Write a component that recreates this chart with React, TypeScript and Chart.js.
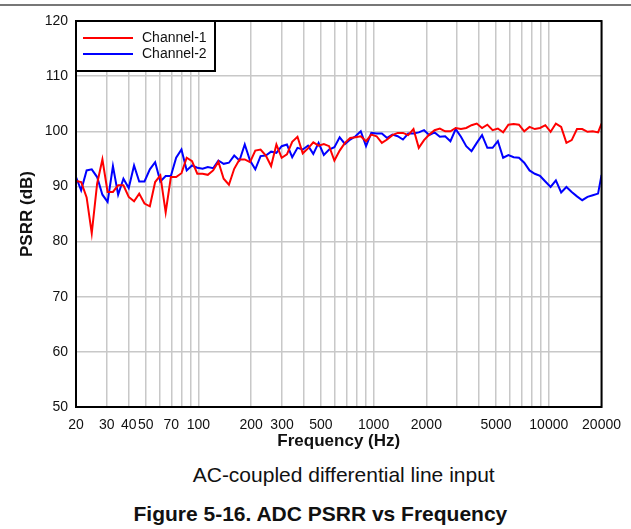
import React, { useEffect, useRef } from "react";
import { Chart, registerables } from "chart.js";

Chart.register(...registerables);

const FREQ_HZ = [20, 21.4, 23.0, 24.6, 26.4, 28.3, 30.3, 32.5, 34.8, 37.3, 40, 42.9, 45.9, 49.2, 52.8, 56.6, 60.6, 65.0, 69.6, 74.6, 80, 85.7, 91.9, 98.5, 105.6, 113.1, 121.3, 130.0, 139.3, 149.3, 160, 171.5, 183.8, 197.0, 211.1, 226.3, 242.5, 259.9, 278.6, 298.6, 320, 343.0, 367.6, 394.0, 422.2, 452.5, 485.0, 519.8, 557.2, 597.1, 640, 685.9, 735.2, 787.9, 844.5, 905.1, 970.1, 1039.7, 1114.4, 1194.3, 1280, 1371.9, 1470.3, 1575.9, 1689.0, 1810.2, 1940.1, 2079.4, 2228.7, 2388.7, 2560, 2743.7, 2940.7, 3151.7, 3377.9, 3620.4, 3880.2, 4158.7, 4457.2, 4777.1, 5120, 5487.5, 5881.3, 6303.5, 6755.9, 7240.8, 7760.5, 8317.5, 8914.4, 9554.2, 10240, 10975, 11763, 12607, 13512, 14482, 15521, 16635, 17829, 19109, 20000];

const CHANNEL_1_DB = [91.0, 90.8, 88.0, 81.5, 90.5, 94.9, 89.0, 89.0, 90.2, 90.2,
  88.1, 87.3, 88.7, 86.9, 86.4, 90.8, 92.0, 85.3, 91.7, 91.7,
  92.4, 95.2, 94.6, 92.3, 92.3, 92.1, 92.9, 94.5, 91.4, 90.3,
  93.2, 94.9, 94.9, 94.4, 96.5, 96.7, 95.6, 93.7, 97.6, 95.2,
  95.8, 98.1, 99.0, 96.0, 96.9, 98.0, 97.4, 97.7, 97.3, 94.7,
  96.5, 97.9, 98.8, 98.9, 99.1, 98.2, 99.4, 99.1, 97.9, 98.5,
  99.3, 99.7, 99.7, 99.3, 100.4, 97.0, 98.4, 99.4, 100.2, 100.5,
  100.0, 100.0, 100.6, 100.4, 100.6, 101.1, 101.4, 100.6, 101.2, 100.2,
  100.5, 99.8, 101.2, 101.3, 101.2, 100.0, 100.8, 100.4, 100.6, 101.1,
  99.9, 101.4, 100.8, 97.9, 98.4, 100.4, 100.4, 99.9, 100.0, 99.8, 101.4];

const CHANNEL_2_DB = [91.7, 89.3, 92.9, 93.1, 91.7, 88.5, 87.2, 93.7, 88.5, 91.4,
  89.7, 93.8, 90.9, 90.9, 93.1, 94.4, 90.9, 91.9, 91.9, 95.2,
  96.7, 92.9, 93.8, 93.4, 93.2, 93.5, 93.3, 94.7, 94.1, 94.3,
  95.6, 94.7, 97.6, 94.7, 93.1, 95.5, 95.6, 96.3, 96.1, 97.3,
  97.6, 95.3, 97.0, 96.7, 97.4, 95.9, 97.9, 95.7, 96.7, 97.1,
  98.9, 97.7, 98.5, 99.1, 100.0, 97.3, 99.7, 99.6, 99.6, 98.8,
  99.4, 99.1, 98.5, 99.6, 99.6, 99.8, 100.2, 99.3, 99.8, 99.0,
  99.1, 98.2, 100.4, 99.0, 97.3, 96.4, 97.9, 99.3, 97.0, 97.0,
  98.2, 95.2, 95.7, 95.3, 95.2, 94.3, 92.9, 92.3, 91.9, 90.9,
  89.9, 91.1, 88.9, 89.9, 89.0, 88.2, 87.5, 88.1, 88.4, 88.7, 92.1];

const SERIES_NAMES = ["Channel-1", "Channel-2"];
const SERIES_COLORS = ["#ff0000", "#0000ff"];

const X_GRID_VALUES = [20, 30, 40, 50, 60, 70, 80, 90, 100, 200, 300, 400, 500, 600, 700, 800, 900, 1000, 2000, 3000, 4000, 5000, 6000, 7000, 8000, 9000, 10000, 20000];
const X_LABELED = [20, 30, 40, 50, 70, 100, 200, 300, 500, 1000, 2000, 5000, 10000, 20000];

const Y_MIN = 50;
const Y_MAX = 120;
const Y_STEP = 10;

const FONT = "'Liberation Sans', Arial, Helvetica, sans-serif";

const frameAndLegend = {
  id: "frameAndLegend",
  afterDraw(chart: any) {
    const { ctx, chartArea } = chart;
    const { left, top, right, bottom } = chartArea;
    ctx.save();
    ctx.strokeStyle = "#000";
    ctx.lineWidth = 2;
    ctx.strokeRect(left, top, right - left, bottom - top);
    // legend box
    const lw = 139;
    const lh = 50;
    ctx.fillStyle = "#fff";
    ctx.fillRect(left, top, lw, lh);
    ctx.strokeRect(left, top, lw, lh);
    ctx.font = `14px ${FONT}`;
    ctx.textBaseline = "middle";
    SERIES_NAMES.forEach((name, i) => {
      const y = top + 17 + i * 16;
      ctx.strokeStyle = SERIES_COLORS[i];
      ctx.lineWidth = 2;
      ctx.beginPath();
      ctx.moveTo(left + 7, y);
      ctx.lineTo(left + 57, y);
      ctx.stroke();
      ctx.fillStyle = "#111";
      ctx.fillText(name, left + 66, y);
    });
    ctx.restore();
  },
};

function App() {
  const canvasRef = useRef<HTMLCanvasElement | null>(null);

  useEffect(() => {
    if (!canvasRef.current) return;
    const chart = new Chart(canvasRef.current, {
      type: "line",
      data: {
        datasets: [CHANNEL_1_DB, CHANNEL_2_DB].map((vals, i) => ({
          label: SERIES_NAMES[i],
          data: FREQ_HZ.map((f, j) => ({ x: f, y: vals[j] })),
          borderColor: SERIES_COLORS[i],
          backgroundColor: SERIES_COLORS[i],
          borderWidth: 2,
          pointRadius: 0,
          tension: 0,
          fill: false,
        })),
      },
      options: {
        animation: false,
        responsive: false,
        maintainAspectRatio: false,
        devicePixelRatio: 1,
        layout: { padding: { left: 0, top: 21, right: 28, bottom: 0 } },
        plugins: {
          legend: { display: false },
          tooltip: { enabled: false },
          title: { display: false },
        },
        scales: {
          x: {
            type: "logarithmic",
            min: 20,
            max: 20000,
            afterBuildTicks: (scale: any) => {
              scale.ticks = X_GRID_VALUES.map((v) => ({ value: v }));
            },
            afterFit: (scale: any) => {
              scale.height = 53;
            },
            grid: { color: "#c8c8c8", lineWidth: 1.5, drawTicks: false },
            border: { display: false },
            ticks: {
              autoSkip: false,
              maxRotation: 0,
              minRotation: 0,
              padding: 10,
              color: "#111",
              font: { family: FONT, size: 14 },
              callback: (value: any) => (X_LABELED.includes(Number(value)) ? String(value) : ""),
            },
            title: {
              display: true,
              text: "Frequency (Hz)",
              color: "#111",
              font: { family: FONT, size: 17, weight: "bold" },
              padding: { top: 0, bottom: 8 },
            },
          },
          y: {
            type: "linear",
            min: Y_MIN,
            max: Y_MAX,
            afterFit: (scale: any) => {
              scale.width = 76;
            },
            grid: { color: "#c8c8c8", lineWidth: 1.5, drawTicks: false },
            border: { display: false },
            ticks: {
              stepSize: Y_STEP,
              padding: 8,
              color: "#111",
              font: { family: FONT, size: 14 },
            },
            title: {
              display: true,
              text: "PSRR (dB)",
              color: "#111",
              font: { family: FONT, size: 17, weight: "bold" },
              padding: { top: 17, bottom: 0 },
            },
          },
        },
      },
      plugins: [frameAndLegend],
    } as any);
    return () => chart.destroy();
  }, []);

  return (
    <div style={{ position: "absolute", left: 0, top: 0, width: 631, height: 529, background: "#fff", overflow: "hidden", fontFamily: FONT }}>
      <div style={{ position: "absolute", left: 0, top: 4, width: 631, height: 1.5, background: "#777" }} />
      <canvas ref={canvasRef} width={631} height={460} style={{ position: "absolute", left: 0, top: 0, width: 631, height: 460 }} />
      <div style={{ position: "absolute", left: 343.7, top: 464, transform: "translateX(-50%)", whiteSpace: "nowrap", fontSize: 21, lineHeight: "21px", color: "#111" }}>
        AC-coupled differential line input
      </div>
      <div style={{ position: "absolute", left: 320.4, top: 503, transform: "translateX(-50%)", whiteSpace: "nowrap", fontSize: 21, lineHeight: "21px", fontWeight: "bold", color: "#111" }}>
        Figure 5-16. ADC PSRR vs Frequency
      </div>
    </div>
  );
}

export default App;
